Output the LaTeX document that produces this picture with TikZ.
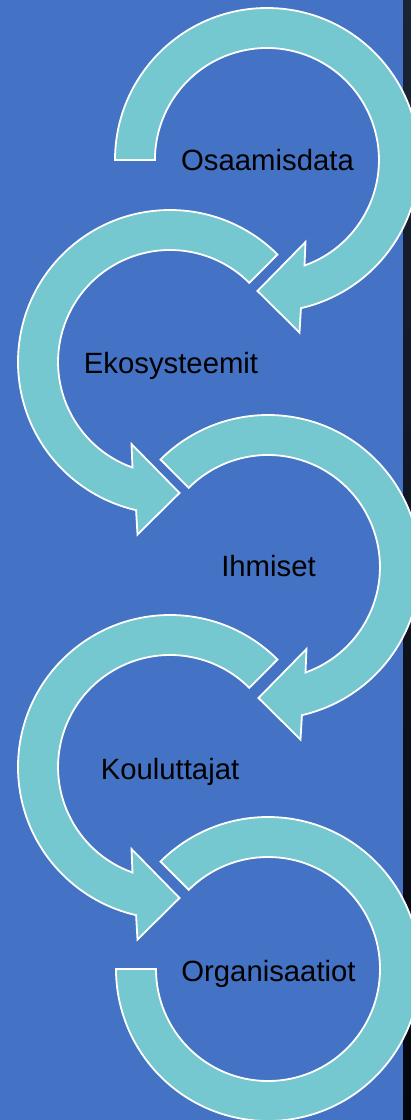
\documentclass[tikz,border=0pt]{standalone}
\usepackage{fontspec}
\setmainfont{Liberation Sans}
\definecolor{slideblue}{RGB}{68,114,196}
\definecolor{ringfill}{RGB}{117,199,208}
\definecolor{stripTop}{RGB}{26,36,54}
\definecolor{stripBot}{RGB}{4,6,14}
% One circular arrow around the origin: tail cut at angle #1,
% band between radius 112 and 152, arrowhead at the bottom.
\newcommand\ringarrow[1]{%
  \draw[ring] (#1:152) arc[start angle=#1, end angle=437.1, radius=152]
    -- (32.5,172.5) -- (-9.5,131) -- (38.5,82) -- (37.5,105.5)
    arc[start angle=430.4, end angle=#1, radius=112] -- cycle;}
\begin{document}
\begin{tikzpicture}[x=1pt,y=-1pt,
  ring/.style={fill=ringfill,draw=white,line width=1.8pt,line join=miter},
  ringtext/.style={font=\fontsize{29.3}{35}\selectfont,text=black,anchor=base,inner sep=0pt}]
\useasboundingbox (0,0) rectangle (411,1120);
\clip (0,0) rectangle (411,1120);
% backdrop: dark strip on the right, blue panel
\shade[top color=stripTop,bottom color=stripBot] (0,0) rectangle (411,1120);
\fill[slideblue] (0,0) rectangle (403,1120);
% chain of circular arrows
\begin{scope}[shift={(267,160)}]\ringarrow{180}\end{scope}
\begin{scope}[shift={(170,362)},xscale=-1]\ringarrow{225}\end{scope}
\begin{scope}[shift={(268,567)}]\ringarrow{225}\end{scope}
\begin{scope}[shift={(170,767)},xscale=-1]\ringarrow{225}\end{scope}
\begin{scope}[shift={(268,969)}]
  \draw[ring] (225:152) arc[start angle=225, end angle=540, radius=152]
    -- (180:112) arc[start angle=540, end angle=225, radius=112] -- cycle;
\end{scope}
% labels
\node[ringtext] (osaamisdata) at (267.5,170) {Osaamisdata};
\node[ringtext] (ekosysteemit) at (171,373) {Ekosysteemit};
\node[ringtext] (ihmiset) at (268.5,576) {Ihmiset};
\node[ringtext] (kouluttajat) at (170,779) {Kouluttajat};
\node[ringtext] (organisaatiot) at (268.5,981) {Organisaatiot};
\end{tikzpicture}
\end{document}
